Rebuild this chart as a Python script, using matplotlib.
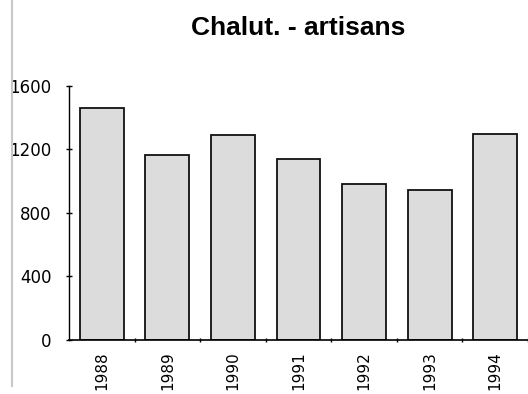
import numpy as np
import matplotlib
matplotlib.use('Agg')
import matplotlib.pyplot as plt
from matplotlib.lines import Line2D

years = ['1988', '1989', '1990', '1991', '1992', '1993', '1994']
values = [1460, 1162, 1291, 1141, 983, 943, 1298]
yticks = [0, 400, 800, 1200, 1600]

fig = plt.figure(figsize=(5.28, 3.94), dpi=100)
ax = fig.add_axes([0.1307, 0.137, 0.8693, 0.645])

x = np.arange(len(years))
ax.bar(x, values, width=0.67, color='#dcdcdc', edgecolor='#111111', linewidth=1.3)

ax.set_xlim(-0.5, len(years) - 0.5)
ax.set_ylim(0, 1600)
ax.set_yticks(yticks)
ax.set_yticklabels([str(v) for v in yticks], fontsize=12, family='DejaVu Sans')

# year labels under bars, tick marks at category boundaries
ax.set_xticks(x)
ax.set_xticklabels(years, rotation=90, fontsize=11, family='DejaVu Sans')
ax.tick_params(axis='x', length=0, pad=8)
ax.set_xticks(np.arange(len(years)) + 0.5, minor=True)
ax.tick_params(axis='x', which='minor', length=3, direction='inout', width=1)
ax.tick_params(axis='y', length=5, direction='inout', width=1, pad=10)

for s in ['top', 'right']:
    ax.spines[s].set_visible(False)
ax.spines['left'].set_linewidth(1.0)
ax.spines['bottom'].set_linewidth(1.2)

fig.text(0.565, 0.93, 'Chalut. - artisans', ha='center', va='center',
         fontsize=19, fontweight='bold', family='Liberation Sans')

# faint scan edge line on the left
fig.add_artist(Line2D([0.023, 0.023], [0.02, 1.0], color='#c8c8c8', linewidth=1.5,
                      transform=fig.transFigure))

fig.savefig('out.png', dpi=100)
